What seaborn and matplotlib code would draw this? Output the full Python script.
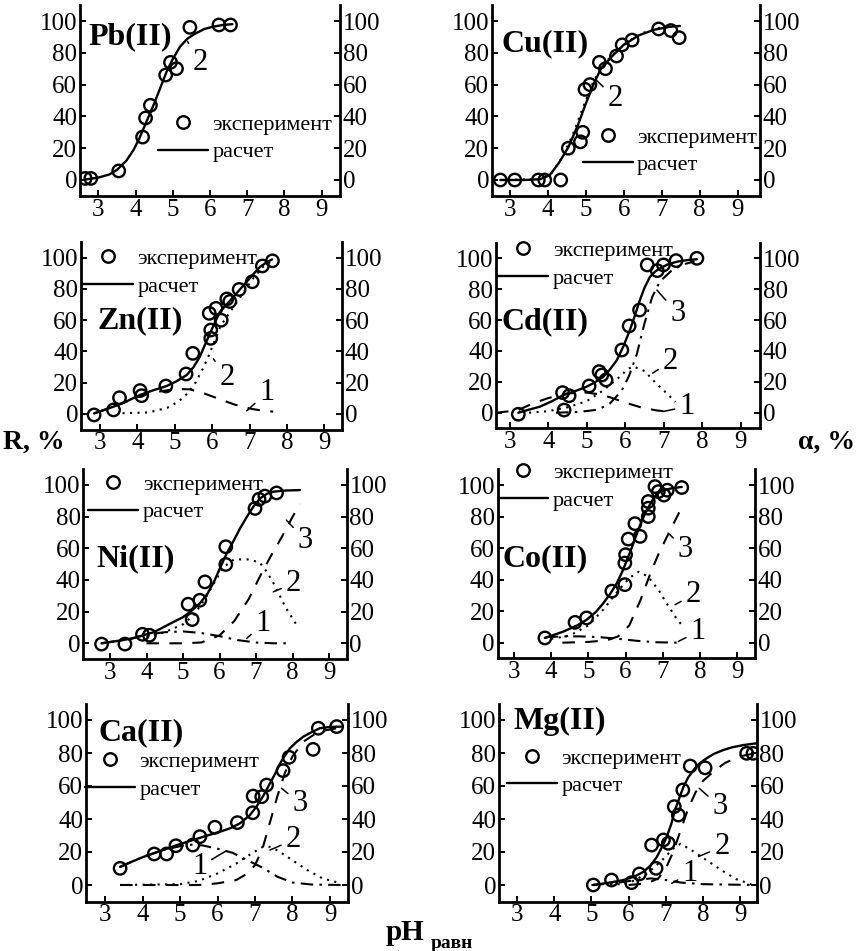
import matplotlib
matplotlib.use("Agg")
import matplotlib.pyplot as plt
from matplotlib.lines import Line2D
import seaborn as sns

# ---------------- data ----------------
pb_exp_ph = [2.65, 2.8, 3.55, 4.19, 4.27, 4.4, 4.81, 4.94, 5.1, 5.46, 6.24, 6.55]
pb_exp_r = [1, 1, 5.7, 27, 39, 47, 66, 74, 70, 96, 97.5, 97.5]
pb_calc_ph = [2.64, 3.0, 3.3, 3.5, 3.75, 3.95, 4.1, 4.3, 4.5, 4.7, 4.85, 5.0, 5.2, 5.4, 5.6, 5.85, 6.1, 6.35, 6.6]
pb_calc_r = [0.3, 1.5, 3.5, 6.3, 12, 19, 26, 37, 48, 60, 69, 76, 84, 89, 92, 95, 96.5, 97.5, 98]

cu_exp_ph = [2.75, 3.13, 3.75, 3.92, 4.34, 4.54, 4.86, 4.92, 4.98, 5.11, 5.36, 5.52, 5.81, 5.96, 6.22, 6.92, 7.24, 7.46]
cu_exp_r = [0, 0, 0, 0, 0, 20, 24, 30, 57, 60, 74, 70, 78, 85, 88, 95, 94, 89.5]
cu_calc_ph = [2.75, 3.4, 3.8, 4.05, 4.3, 4.55, 4.8, 5.0, 5.2, 5.4, 5.7, 6.0, 6.4, 6.8, 7.2, 7.48]
cu_calc_r = [0, 0, 0.5, 3, 11, 21, 35, 48, 60, 70, 78, 85, 91, 94.5, 96.3, 96.9]
cu_2_ph = [2.75, 3.8, 4.1, 4.4, 4.7, 4.95, 5.2, 5.5, 5.8, 6.1, 6.5, 7.0, 7.45]
cu_2_r = [0, 0.6, 4.5, 15, 31, 47, 62, 73.5, 81, 87, 92.5, 96.2, 97.3]

zn_exp_ph = [2.84, 3.36, 3.52, 4.07, 4.11, 4.76, 5.3, 5.48, 5.92, 5.96, 5.96, 6.1, 6.24, 6.39, 6.47, 6.72, 7.07, 7.34, 7.61]
zn_exp_r = [-0.6, 2.6, 10.4, 15, 11.7, 17.9, 25.6, 38.8, 64.4, 53.7, 48.4, 67.6, 60, 73.6, 72, 79.7, 84.6, 94.7, 98]
zn_calc_ph = [2.84, 3.1, 3.36, 3.7, 4.07, 4.4, 4.78, 5.05, 5.32, 5.5, 5.67, 5.8, 5.94, 6.08, 6.21, 6.4, 6.57, 6.75, 6.92, 7.1, 7.28, 7.45, 7.6]
zn_calc_r = [0.4, 2.5, 4.7, 8, 12.2, 15, 17.9, 21, 25, 30, 36.7, 44, 51.6, 59, 65.5, 70.5, 75, 80, 84.6, 89.5, 94.2, 97, 98.9]
zn_1_ph = [2.84, 3.36, 3.7, 4.07, 4.5, 5.0, 5.4, 5.8, 6.2, 6.6, 7.0, 7.3, 7.63]
zn_1_r = [0.4, 4.7, 7.8, 11.5, 14, 16, 15.8, 13, 9.5, 6, 3.5, 2.3, 1.5]
zn_2_ph = [3.6, 4.3, 4.8, 5.1, 5.35, 5.55, 5.75, 5.9, 6.05, 6.2, 6.35, 6.5, 6.7, 6.9, 7.1, 7.35, 7.6]
zn_2_r = [0.5, 1, 4, 8, 13.5, 20, 29, 37, 46, 55, 61, 66, 73, 80, 87, 94, 98]

cd_exp_ph = [3.22, 4.37, 4.41, 4.54, 5.06, 5.32, 5.39, 5.5, 5.91, 6.1, 6.37, 6.57, 6.83, 6.99, 7.32, 7.86]
cd_exp_r = [-1, 13, 1.7, 11, 17.3, 26.6, 24.4, 21.2, 40.6, 56.2, 66.5, 95.7, 92, 95.7, 98.5, 100]
cd_calc_ph = [3.22, 3.5, 3.78, 4.1, 4.39, 4.7, 4.99, 5.2, 5.43, 5.6, 5.78, 5.95, 6.12, 6.25, 6.38, 6.5, 6.64, 6.78, 6.9, 7.1, 7.34, 7.6, 7.86]
cd_calc_r = [0, 2, 3.9, 7.5, 11.4, 14, 16.8, 19.5, 23.3, 28, 34, 43, 53.6, 63, 73, 81, 88, 91.5, 93.5, 96, 97.8, 98.8, 99.4]
cd_1_ph = [2.64, 3.2, 3.6, 4.0, 4.5, 5.0, 5.3, 5.6, 6.0, 6.4, 6.8, 7.2]
cd_1_r = [0, 1.5, 6, 9.5, 12.5, 13, 12, 10, 6.5, 3.5, 1.5, 0.5]
cd_2_ph = [3.5, 4.0, 4.5, 5.0, 5.4, 5.8, 6.05, 6.2, 6.5, 6.8, 7.1, 7.3]
cd_2_r = [0, 1, 3.5, 7.5, 14, 22, 28, 30, 27, 19, 12, 7]
cd_3_ph = [4.2, 4.8, 5.3, 5.6, 5.9, 6.1, 6.3, 6.5, 6.7, 6.9, 7.2, 7.5, 7.8]
cd_3_r = [0, 0.5, 2, 6, 14, 24, 38, 58, 75, 85, 92, 96, 98]

ni_exp_ph = [2.77, 3.41, 3.89, 4.08, 5.14, 5.25, 5.46, 5.6, 6.17, 6.17, 6.97, 7.08, 7.24, 7.56]
ni_exp_r = [-0.5, -0.5, 5.7, 5.1, 24.7, 15, 27.2, 38.8, 49.8, 61, 85.2, 91, 93, 95]
ni_calc_ph = [2.77, 3.2, 3.6, 4.2, 4.74, 5.0, 5.24, 5.45, 5.66, 5.85, 6.02, 6.2, 6.39, 6.57, 6.75, 6.93, 7.11, 7.3, 7.48, 7.8, 8.2]
ni_calc_r = [0, 1.5, 3, 7, 13.5, 16.5, 20.7, 25, 31, 39, 48, 57, 65, 73, 80, 86.5, 91.6, 94.5, 95.8, 96.5, 96.8]
ni_1_ph = [2.77, 3.5, 4.0, 4.5, 5.0, 5.5, 6.0, 6.5, 7.0, 7.5, 7.9]
ni_1_r = [0, 2.5, 5.5, 7, 7.5, 6.5, 4.5, 2, 0.5, 0, 0]
ni_2_ph = [4.0, 4.5, 5.0, 5.3, 5.6, 5.9, 6.1, 6.4, 6.8, 7.1, 7.3, 7.5, 7.8, 8.15]
ni_2_r = [4, 7, 12, 18, 28, 40, 48, 53, 53, 51, 45, 37, 23, 10]
ni_3_ph = [4.0, 5.0, 5.5, 6.0, 6.4, 6.8, 7.1, 7.4, 7.7, 8.0, 8.2]
ni_3_r = [0, 0, 0.5, 5, 14, 28, 42, 55, 67, 80, 88]

co_exp_ph = [3.83, 4.64, 4.95, 5.63, 5.98, 5.98, 6.0, 6.07, 6.25, 6.39, 6.61, 6.61, 6.61, 6.79, 6.88, 7.03, 7.12, 7.51]
co_exp_r = [3, 12.9, 15.7, 32.7, 36.8, 50.5, 55.8, 65.7, 75.5, 67.4, 80, 85.3, 89.5, 99, 95.8, 93.6, 96.7, 98.4]
co_calc_ph = [3.83, 4.32, 4.7, 4.95, 5.2, 5.4, 5.6, 5.76, 5.9, 6.03, 6.17, 6.3, 6.43, 6.57, 6.7, 6.84, 7.0, 7.2, 7.51]
co_calc_r = [3, 7, 11, 14.5, 19.5, 25, 31.5, 37.6, 44.5, 52, 60.5, 69, 77, 84, 89.5, 94.5, 96.5, 97.7, 98.8]
co_1_ph = [3.85, 4.3, 4.8, 5.3, 5.8, 6.3, 6.8, 7.4]
co_1_r = [3.5, 4, 4, 3.5, 2.5, 1.2, 0.3, 0]
co_2_ph = [4.0, 4.5, 5.0, 5.4, 5.8, 6.1, 6.35, 6.6, 6.9, 7.1, 7.35, 7.55]
co_2_r = [2.5, 4.5, 11, 21, 33, 41, 45, 42, 33, 25, 16, 10]
co_3_ph = [4.3, 5.0, 5.5, 5.8, 6.1, 6.4, 6.7, 6.9, 7.15, 7.45]
co_3_r = [0, 0.5, 1.5, 4, 11, 27, 46, 57, 69, 83]

ca_exp_ph = [3.4, 4.31, 4.64, 4.89, 5.34, 5.53, 5.93, 6.53, 6.94, 6.95, 7.18, 7.31, 7.75, 7.91, 8.55, 8.69, 9.18]
ca_exp_r = [10.1, 18.8, 18.8, 23.8, 24.2, 29.3, 35, 37.8, 43.8, 53.9, 53.5, 60.6, 69.3, 77.4, 82.2, 95, 96]
ca_calc_ph = [3.4, 3.7, 4.02, 4.33, 4.64, 5.0, 5.35, 5.7, 6.07, 6.35, 6.6, 6.85, 7.04, 7.22, 7.4, 7.55, 7.67, 7.8, 7.93, 8.1, 8.29, 8.5, 8.73, 9.0, 9.3]
ca_calc_r = [11, 14, 17, 19.5, 22, 24.8, 27.3, 29.8, 32.3, 34.5, 37.4, 42, 47.5, 54, 61.6, 68, 73.7, 78.5, 82.8, 86.5, 89.9, 92.5, 95, 95.8, 96]
ca_1_ph = [3.4, 4.0, 4.6, 5.2, 5.6, 6.0, 6.4, 6.8, 7.2, 7.6, 8.0, 8.5, 9.3]
ca_1_r = [11, 17, 21.5, 24.5, 24, 22, 19.5, 15, 10.5, 5, 1.5, 0.3, 0]
ca_2_ph = [3.4, 5.0, 5.5, 6.0, 6.5, 6.9, 7.2, 7.35, 7.6, 8.0, 8.4, 8.8, 9.3]
ca_2_r = [0, 0.5, 2.5, 7, 13, 19, 23, 23.5, 21, 15, 9, 4, 1]
ca_3_ph = [3.4, 5.5, 6.0, 6.5, 6.8, 7.0, 7.2, 7.4, 7.6, 7.8, 8.0, 8.3, 8.7, 9.3]
ca_3_r = [0, 0, 1, 3, 7, 12, 22, 38, 54, 68, 78, 87, 93, 95.5]

mg_exp_ph = [5.05, 5.54, 6.08, 6.29, 6.62, 6.74, 6.94, 7.07, 7.23, 7.34, 7.46, 7.66, 8.06, 9.18, 9.35]
mg_exp_r = [0, 3, 1.4, 6.7, 24.2, 10.1, 27.3, 25.3, 47.5, 42.4, 57.6, 72.1, 71, 79.8, 79.8]
mg_calc_ph = [5.05, 5.5, 5.86, 6.15, 6.4, 6.6, 6.76, 6.9, 7.03, 7.15, 7.25, 7.37, 7.48, 7.6, 7.75, 7.9, 8.1, 8.3, 8.55, 8.8, 9.09, 9.45]
mg_calc_r = [0, 1.5, 3, 5, 8, 12, 17, 23, 29.3, 37, 45.5, 53, 59.6, 65, 69.7, 73.5, 76.8, 79.5, 81.8, 83.5, 84.8, 85.9]
mg_1_ph = [5.0, 5.6, 6.2, 6.6, 7.0, 7.4, 8.0, 9.4]
mg_1_r = [0, 1, 3, 4, 3, 1.5, 0.5, 0]
mg_2_ph = [5.5, 6.0, 6.5, 6.9, 7.2, 7.4, 7.7, 8.1, 8.5, 8.9, 9.3]
mg_2_r = [0, 1, 7, 15, 22, 25, 21, 15, 9, 3.5, 0.5]
mg_3_ph = [6.0, 6.5, 6.8, 7.0, 7.2, 7.4, 7.6, 7.8, 8.0, 8.3, 8.6, 9.0, 9.45]
mg_3_r = [0, 1, 4, 10, 20, 33, 46, 56, 63, 69, 74, 78, 80]

x_ticks = [3, 4, 5, 6, 7, 8, 9]
y_ticks = [0, 20, 40, 60, 80, 100]
legend_labels = ["эксперимент", "расчет"]

# ---------------- styles ----------------
SOLID = "-"
DOT = (0, (1, 2.6))
DASH = (0, (6, 5))
DASHDOT = (0, (6, 3, 1.2, 3))

sns.set_theme(style="ticks")
plt.rcParams["font.family"] = ["Liberation Serif", "DejaVu Serif"]
plt.rcParams["axes.linewidth"] = 2.0
plt.rcParams["text.color"] = "black"
plt.rcParams["axes.labelcolor"] = "black"
plt.rcParams["xtick.color"] = "black"
plt.rcParams["ytick.color"] = "black"
plt.rcParams["legend.labelcolor"] = "black"

W, H = 858, 951
fig = plt.figure(figsize=(W / 100, H / 100), dpi=100)

# panel layout: pixel geometry, xlim, title/legend/label positions
panels = [
    dict(name="Pb(II)", left=80, right=340, y0=180, y100=21, xlim=(2.51, 9.49),
         exp=(pb_exp_ph, pb_exp_r), calc=(pb_calc_ph, pb_calc_r), comps=[],
         title=(2.74, 90), leg=(4.61, 26.2),
         labels=[("2", (5.4, 87), (5.73, 74))]),
    dict(name="Cu(II)", left=492, right=760, y0=180, y100=21, xlim=(2.53, 9.59),
         exp=(cu_exp_ph, cu_exp_r), calc=(cu_calc_ph, cu_calc_r),
         comps=[(cu_2_ph, cu_2_r, DOT)],
         title=(2.79, 86), leg=(4.92, 18.2),
         labels=[("2", (5.27, 63), (5.77, 51.5))]),
    dict(name="Zn(II)", left=81, right=342, y0=414, y100=257.7, xlim=(2.49, 9.47),
         exp=(zn_exp_ph, zn_exp_r), calc=(zn_calc_ph, zn_calc_r),
         comps=[(zn_1_ph, zn_1_r, DASH), (zn_2_ph, zn_2_r, DOT)],
         title=(2.92, 60), leg=(2.54, 90.6),
         labels=[("2", (6.03, 35.3), (6.39, 23.4)), ("1", (6.92, 2), (7.46, 13.7))]),
    dict(name="Cd(II)", left=496, right=760, y0=412.7, y100=258.3, xlim=(2.64, 9.5),
         exp=(cd_exp_ph, cd_exp_r), calc=(cd_calc_ph, cd_calc_r),
         comps=[(cd_1_ph, cd_1_r, DASH), (cd_2_ph, cd_2_r, DOT), (cd_3_ph, cd_3_r, DASHDOT)],
         title=(2.78, 59), leg=(2.70, 96),
         labels=[("3", (6.82, 79.4), (7.36, 64.3)), ("2", (6.71, 25.6), (7.17, 33)),
                 ("1", (6.99, 0.8), (7.6, 4))]),
    dict(name="Ni(II)", left=83.3, right=346.7, y0=643.3, y100=485, xlim=(2.27, 9.48),
         exp=(ni_exp_ph, ni_exp_r), calc=(ni_calc_ph, ni_calc_r),
         comps=[(ni_1_ph, ni_1_r, DASHDOT), (ni_2_ph, ni_2_r, DOT), (ni_3_ph, ni_3_r, DASH)],
         title=(2.64, 53.6), leg=(2.41, 91.6),
         labels=[("3", (7.83, 77.8), (8.34, 65.2)), ("2", (7.47, 32.5), (8.02, 37.8)),
                 ("1", (6.74, 3), (7.19, 12.5))]),
    dict(name="Co(II)", left=497.7, right=755, y0=642.7, y100=485, xlim=(2.56, 9.48),
         exp=(co_exp_ph, co_exp_r), calc=(co_calc_ph, co_calc_r),
         comps=[(co_1_ph, co_1_r, DASHDOT), (co_2_ph, co_2_r, DOT), (co_3_ph, co_3_r, DASH)],
         title=(2.70, 53), leg=(2.58, 99.1),
         labels=[("3", (7.19, 68.5), (7.6, 59)), ("2", (7.33, 24.1), (7.82, 30.4)),
                 ("1", (7.42, 0.8), (7.95, 7.2))]),
    dict(name="Ca(II)", left=86, right=348.3, y0=885, y100=720, xlim=(2.49, 9.49),
         exp=(ca_exp_ph, ca_exp_r), calc=(ca_calc_ph, ca_calc_r),
         comps=[(ca_1_ph, ca_1_r, DASHDOT), (ca_2_ph, ca_2_r, DOT), (ca_3_ph, ca_3_r, DASH)],
         title=(2.82, 92), leg=(2.47, 66.4),
         labels=[("3", (7.71, 58.6), (8.2, 49.5)), ("2", (7.4, 21.2), (8.02, 27.3)),
                 ("1", (6.24, 20.8), (5.52, 11.1))]),
    dict(name="Mg(II)", left=499, right=756.7, y0=885, y100=720, xlim=(2.51, 9.45),
         exp=(mg_exp_ph, mg_exp_r), calc=(mg_calc_ph, mg_calc_r),
         comps=[(mg_1_ph, mg_1_r, DASHDOT), (mg_2_ph, mg_2_r, DOT), (mg_3_ph, mg_3_r, DASH)],
         title=(2.89, 99), leg=(2.73, 68.4),
         labels=[("3", (7.9, 58.6), (8.46, 47.5)), ("2", (7.88, 17.2), (8.51, 23.2)),
                 ("1", (7.16, 1), (7.65, 7.1))]),
]

TICK_FS = 18
for p in panels:
    unit = (p["y0"] - p["y100"]) / 100.0
    top = p["y100"] - 10 * unit
    bottom = p["y0"] + 10 * unit
    ax = fig.add_axes([p["left"] / W, 1 - bottom / H,
                       (p["right"] - p["left"]) / W, (bottom - top) / H])
    ax.set_facecolor("none")

    for cx, cy, ls in p["comps"]:
        sns.lineplot(x=cx, y=cy, ax=ax, color="black", linewidth=1.5,
                     linestyle=ls, sort=False, estimator=None)
    sns.lineplot(x=p["calc"][0], y=p["calc"][1], ax=ax, color="black",
                 linewidth=1.7, sort=False, estimator=None)
    sns.scatterplot(x=p["exp"][0], y=p["exp"][1], ax=ax, marker="o", s=80,
                    facecolors="none", edgecolor="black", linewidth=1.7, zorder=5)

    ax.set_xlim(*p["xlim"])
    ax.set_ylim(-10, 110)
    ax.set_xticks(x_ticks)
    ax.set_yticks(y_ticks)
    ax.set_xlabel("")
    ax.set_ylabel("")
    for s in ["left", "right", "bottom"]:
        ax.spines[s].set_visible(True)
        ax.spines[s].set_linewidth(2.0)
        ax.spines[s].set_color("black")
    ax.spines["top"].set_visible(False)
    ax.tick_params(axis="both", direction="in", length=4, width=1.4,
                   labelsize=TICK_FS, colors="black")
    ax.tick_params(axis="y", left=True, right=True, labelleft=True,
                   labelright=True, pad=2)
    ax.tick_params(axis="x", top=False, bottom=True, pad=2)

    ax.text(p["title"][0], p["title"][1], p["name"], fontsize=23, color="black",
            fontweight="bold", ha="left", va="center", zorder=6)

    for lab, xy, xyt in p["labels"]:
        ax.annotate(lab, xy=xy, xytext=xyt, fontsize=22, ha="center",
                    va="center", zorder=6, color="black",
                    arrowprops=dict(arrowstyle="-", lw=1.1, color="black",
                                    shrinkA=1, shrinkB=0))

    handles = [Line2D([], [], marker="o", linestyle="none", markerfacecolor="none",
                      markeredgecolor="black", markersize=9, markeredgewidth=1.7),
               Line2D([], [], color="black", linewidth=1.7)]
    leg = ax.legend(handles, legend_labels, loc="center left",
                    bbox_to_anchor=p["leg"], bbox_transform=ax.transData,
                    frameon=False, fontsize=16, handlelength=2.25,
                    handletextpad=0.2, labelspacing=0.32, borderpad=0,
                    borderaxespad=0)
    for t in leg.get_texts():
        t.set_color("black")
    leg.set_zorder(7)

# global axis labels
fig.text(3 / W, 1 - 442 / H, "R, %", fontsize=20, fontweight="bold",
         ha="left", va="center", color="black")
fig.text(855 / W, 1 - 442 / H, "α, %", fontsize=20, fontweight="bold",
         ha="right", va="center", color="black")
fig.text(386 / W, 1 - 932 / H, "pH", fontsize=21, fontweight="bold",
         ha="left", va="center", color="black")
fig.text(431 / W, 1 - 944 / H, "равн", fontsize=14, fontweight="bold",
         ha="left", va="center", color="black")

fig.savefig("out.png", dpi=100)
